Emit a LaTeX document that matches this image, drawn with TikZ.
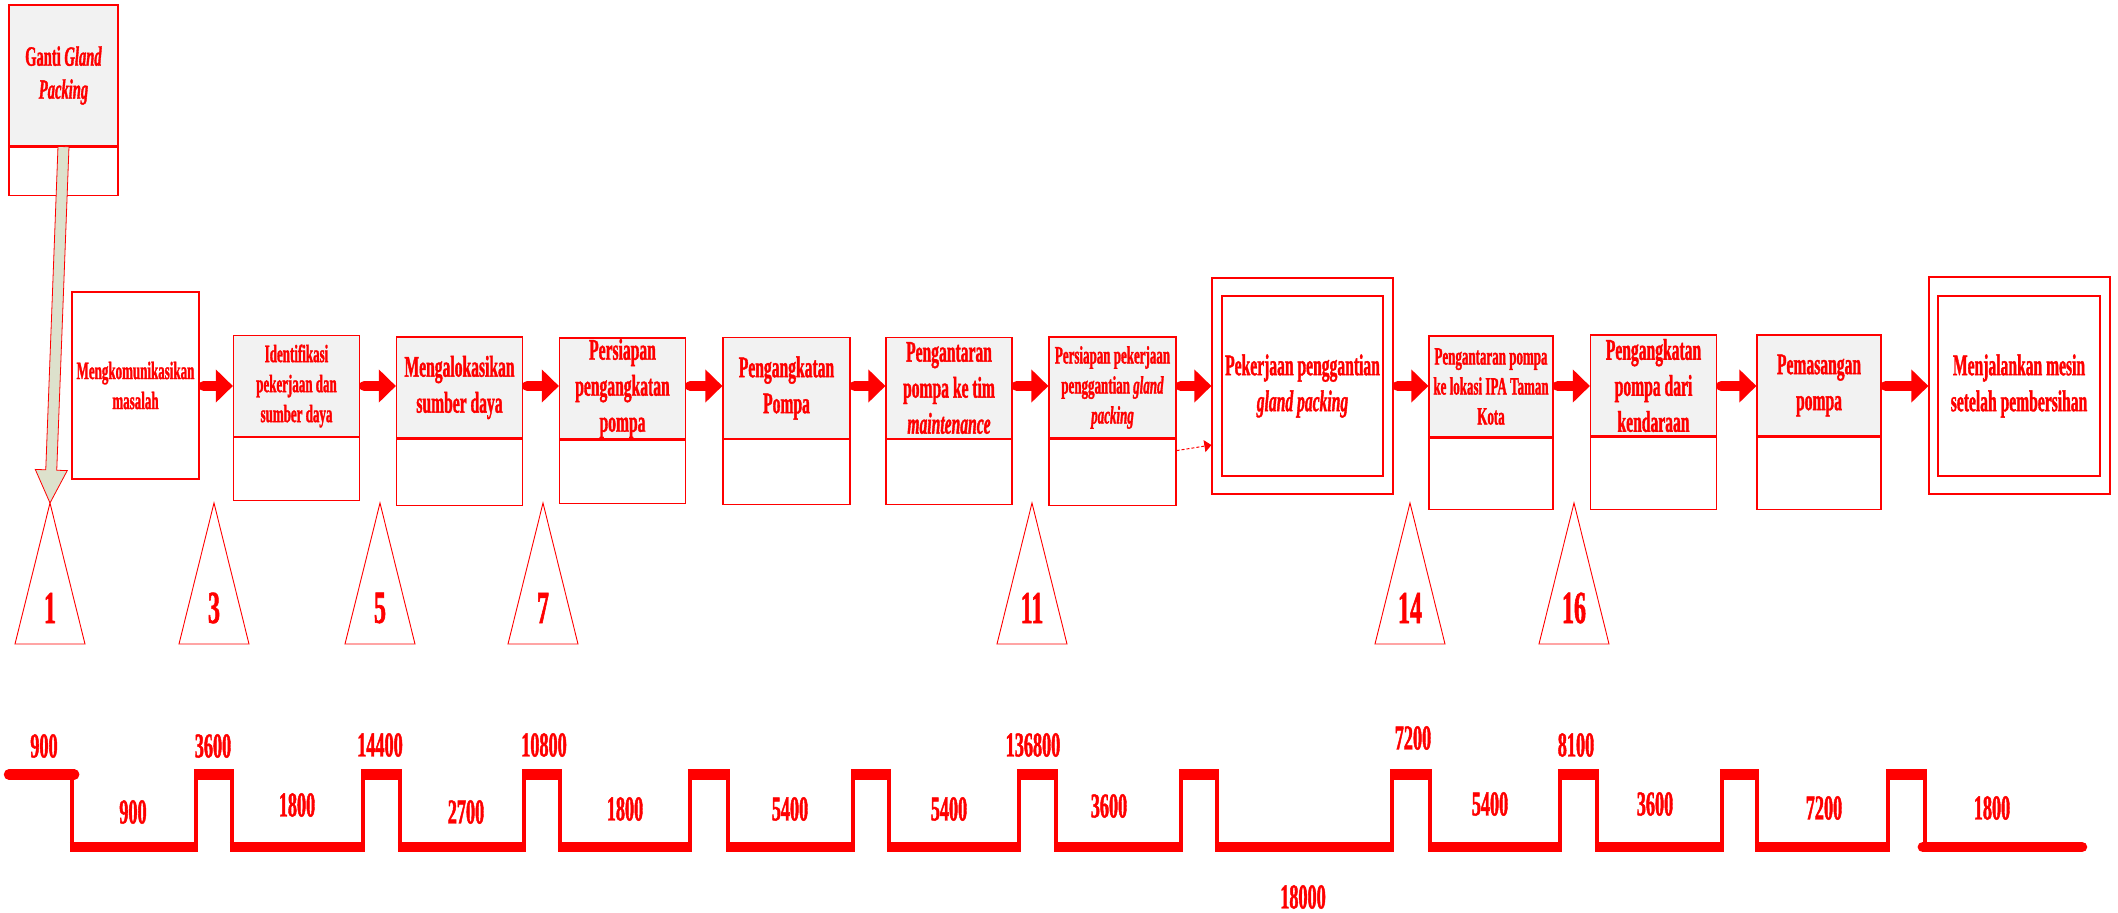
\documentclass[tikz,border=0pt]{standalone}
\usepackage{fontspec}
\setmainfont{Liberation Serif}[FakeStretch=0.52,
  BoldFeatures={FakeBold=1.2}, BoldItalicFeatures={FakeBold=1.2}]
\usetikzlibrary{arrows.meta,calc}
\definecolor{boxgray}{HTML}{F2F2F2}
\definecolor{sage}{HTML}{DDE1CC}

\begin{document}
\begin{tikzpicture}[x=1pt,y=-1pt,
  txt/.style={text=red, align=center, inner sep=0pt},
  fsmall/.style={font=\bfseries\fontsize{25}{30}\selectfont},
  fmid/.style={font=\bfseries\fontsize{28}{33}\selectfont},
  fbig/.style={font=\bfseries\fontsize{30}{36}\selectfont},
  upbox/.style={txt, draw=red, line width=1.2pt, fill=boxgray,
    minimum width=126pt, minimum height=101pt},
  lowbox/.style={draw=red, line width=1.2pt, fill=white, anchor=north,
    minimum width=126pt, inner sep=0pt},
  plainbox/.style={txt, draw=red, line width=1.2pt, fill=white},
  flow/.style={red, line width=10pt, line cap=round,
    -{Triangle[length=17pt,width=32pt]}},
  tri/.style={draw=red, line width=0.9pt, line join=miter},
  trinum/.style={text=red, inner sep=0pt, font=\bfseries\fontsize{46}{50}\selectfont},
  tlthin/.style={red, line width=4.5pt, line join=miter},
  tlthick/.style={red, line width=10.5pt},
  tlnum/.style={text=red, inner sep=0pt, font=\bfseries\fontsize{35}{40}\selectfont},
]
\useasboundingbox (0,0) rectangle (2118,913);

% ---- starting event box -------------------------------------------
\node[upbox, fmid, minimum width=109pt, minimum height=141pt] (gp) at (63.5,75.5)
  {Ganti \textit{Gland}\\\textit{Packing}};
\node[lowbox, minimum width=109pt, minimum height=48pt] (gpl) at (gp.south) {};

% ---- process boxes --------------------------------------------------
\node[plainbox, fsmall, minimum width=127pt, minimum height=187pt] (b1) at (135.5,385.5)
  {Mengkomunikasikan\\masalah};

\node[upbox, fsmall] (b2) at (296.5,386) {Identifikasi\\pekerjaan dan\\sumber daya};
\node[lowbox, minimum height=63pt] (b2l) at (b2.south) {};

\node[upbox, fbig] (b3) at (459.5,387.5) {Mengalokasikan\\sumber daya};
\node[lowbox, minimum height=66pt] (b3l) at (b3.south) {};

\node[upbox, fbig] (b4) at (622.5,388.5) {Persiapan\\pengangkatan\\pompa};
\node[lowbox, minimum height=63pt] (b4l) at (b4.south) {};

\node[upbox, fbig, minimum width=127pt] (b5) at (786.5,388) {Pengangkatan\\Pompa};
\node[lowbox, minimum width=127pt, minimum height=65pt] (b5l) at (b5.south) {};

\node[upbox, fbig] (b6) at (949,388) {Pengantaran\\pompa ke tim\\\textit{maintenance}};
\node[lowbox, minimum height=65pt] (b6l) at (b6.south) {};

\node[upbox, fsmall, minimum width=127pt] (b7) at (1112.5,387.5)
  {Persiapan pekerjaan\\penggantian \textit{gland}\\\textit{packing}};
\node[lowbox, minimum width=127pt, minimum height=66pt] (b7l) at (b7.south) {};

\node[plainbox, minimum width=181pt, minimum height=216pt] (b8) at (1302.5,386) {};
\node[plainbox, fbig, minimum width=161pt, minimum height=180pt] (b8i) at (1302.5,386)
  {Pekerjaan penggantian\\\textit{gland packing}};

\node[upbox, fsmall, minimum width=124pt] (b9) at (1491,386.5)
  {Pengantaran pompa\\ke lokasi IPA Taman\\Kota};
\node[lowbox, minimum width=124pt, minimum height=71pt] (b9l) at (b9.south) {};

\node[upbox, fbig] (b10) at (1653.5,385.5) {Pengangkatan\\pompa dari\\kendaraan};
\node[lowbox, minimum height=72pt] (b10l) at (b10.south) {};

\node[upbox, fbig, minimum width=124pt] (b11) at (1819,385.5) {Pemasangan\\pompa};
\node[lowbox, minimum width=124pt, minimum height=72pt] (b11l) at (b11.south) {};

\node[plainbox, minimum width=181pt, minimum height=217pt] (b12) at (2019.5,385.5) {};
\node[plainbox, fbig, minimum width=162pt, minimum height=180pt] (b12i) at (2019,386)
  {Menjalankan mesin\\setelah pembersihan};

% ---- flow arrows ----------------------------------------------------
\foreach \s/\t in {b1/b2, b2/b3, b3/b4, b4/b5, b5/b6, b6/b7, b7/b8, b8/b9, b9/b10, b10/b11, b11/b12}
  \draw[flow] ($(\s.east |- 0,386)+(4,0)$) -- (\t.west |- 0,386);

% thin dashed link into the replacement work
\coordinate (dlA) at ($(b7l.north east)+(0,12)$);
\coordinate (dlB) at ($(b8.west)+(0,59)$);
\draw[red, line width=1pt, densely dashed, -{Triangle[length=7pt,width=12pt]}] (dlA) -- (dlB);

% ---- inventory triangles -------------------------------------------
\foreach \n/\x in {1/50, 3/214, 5/380, 7/543, 11/1032, 14/1410, 16/1574} {
  \coordinate (t\n) at (\x,503);
  \draw[tri] (\x-35,644) -- (t\n) -- (\x+35,644) -- cycle;
  \node[trinum] (n\n) at (\x,608) {\n};
}

% ---- block arrow from the start box down to the first triangle -------
\path let \p1=($(t1)-(gp.south)$), \n1={veclen(\x1,\y1)}, \n2={atan2(\y1,\x1)} in
  \pgfextra{\xdef\glen{\n1}\xdef\gang{\n2}};
\begin{scope}[shift={(gp.south)}, rotate=\gang, x=1pt, y=1pt]
  \filldraw[fill=sage, draw=red, line width=0.8pt, line join=miter]
    (0,5.5) -- (\glen-33,5.5) -- (\glen-33,16) -- (\glen,0)
    -- (\glen-33,-16) -- (\glen-33,-5.5) -- (0,-5.5) -- cycle;
\end{scope}

% ---- timeline -------------------------------------------------------
\draw[tlthin] (9,774.5)
  \foreach \d/\r in {72/196, 232/363, 400/524, 560/690, 728/853, 889/1019,
                     1056/1181, 1217/1392, 1430/1560, 1597/1722, 1757/1888}
  { -- (\d,774.5) -- (\d,847) -- (\r,847) -- (\r,774.5) }
  -- (1925,774.5) -- (1925,847) -- (2082,847);
\foreach \a/\b in {196/232, 363/400, 524/560, 690/728, 853/889, 1019/1056,
                   1181/1217, 1392/1430, 1560/1597, 1722/1757, 1888/1925}
  \draw[tlthick] (\a-2.2,774.5) -- (\b+2.2,774.5);
\draw[tlthick, line cap=round] (9,774.5) -- (72+2.2,774.5);
\foreach \a/\b in {72/196, 232/363, 400/524, 560/690, 728/853, 889/1019,
                   1056/1181, 1217/1392, 1430/1560, 1597/1722, 1757/1888}
  \draw[tlthick] (\a-2.2,847) -- (\b+2.2,847);
\draw[tlthick, line cap=round] (1925-2.2,847) -- (2082,847);

% time values above the pulses
\foreach \v/\x/\y in {900/44/746, 3600/213/746, 14400/380/745, 10800/544/745,
                      136800/1033/745, 7200/1413/738, 8100/1576/745}
  \node[tlnum] at (\x,\y) {\v};
% time values inside the gaps
\foreach \v/\x/\y in {900/133/812, 1800/297/805, 2700/466/812, 1800/625/809,
                      5400/790/809, 5400/949/809, 3600/1109/806, 5400/1490/804,
                      3600/1655/804, 7200/1824/808, 1800/1992/808}
  \node[tlnum] at (\x,\y) {\v};
\node[tlnum] at (1303,897) {18000};
\end{tikzpicture}
\end{document}
